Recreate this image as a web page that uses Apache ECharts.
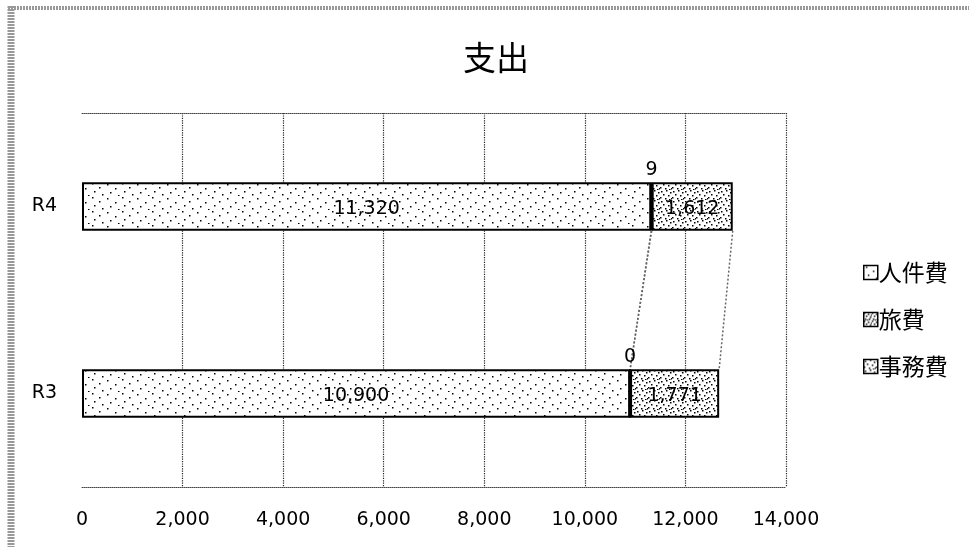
<!DOCTYPE html>
<html><head><meta charset="utf-8">
<script src="https://cdn.jsdelivr.net/npm/echarts@6/dist/echarts.min.js"></script>
<style>html,body{margin:0;padding:0;background:#fff}#c{width:969px;height:547px}</style>
</head><body><div id="c"></div>
<script>
const categories = ['R3', 'R4'];
const seriesNames = ['人件費', '旅費', '事務費'];
const personnel = [10900, 11320];
const travel = [0, 9];
const office = [1771, 1612];
const xTicks = [0, 2000, 4000, 6000, 8000, 10000, 12000, 14000];

function makePattern(w, h, dots, bg) {
  const c = document.createElement('canvas');
  c.width = w; c.height = h;
  const g = c.getContext('2d');
  g.fillStyle = bg; g.fillRect(0, 0, w, h);
  g.fillStyle = '#000';
  dots.forEach(d => g.fillRect(d[0], d[1], 1.5, 1.5));
  return c;
}
const sparse = makePattern(30, 14, [[2,1],[17,2],[9,5],[25,6],[4,9],[20,10],[12,12],[28,13]], '#fff');
const dense = makePattern(8, 8, [[0,0],[4,1],[2,3],[6,4],[1,6],[5,6],[3,7],[7,2]], '#fff');
const medium = makePattern(12, 10, [[1,1],[6,0],[10,2],[3,4],[8,5],[0,7],[5,8],[11,8],[9,9]], '#fff');

const fmt = v => Number(v).toLocaleString('en-US');
const NUMFONT = '"DejaVu Sans", "Noto Sans", sans-serif';
const JPFONT = '"Noto Sans CJK JP", sans-serif';

// cumulative ends for series lines
const ends = [];
let acc = categories.map(() => 0);
[personnel, travel, office].forEach(arr => {
  acc = acc.map((a, i) => a + arr[i]);
  ends.push([acc[1], acc[0], 0]);
});

const BAR_RATIO = 0.26;
const barStyle = (img) => ({ color: { image: img, repeat: 'repeat' }, borderColor: '#000', borderWidth: 2 });
const lbl = (pos) => ({ show: true, position: pos, distance: 5, offset: [0, 3], formatter: p => fmt(p.value), fontFamily: NUMFONT, fontSize: 19, color: '#000' });

const chart = echarts.init(document.getElementById('c'));
chart.setOption({
  animation: false,
  backgroundColor: '#fff',
  title: { text: '支出', left: 458, top: 36, textStyle: { fontFamily: JPFONT, fontSize: 33, fontWeight: 'normal', color: '#000' } },
  legend: {
    orient: 'vertical', left: 858, top: 252, itemGap: 16, itemWidth: 14, itemHeight: 14,
    icon: 'rect', data: seriesNames,
    itemStyle: { borderColor: '#000', borderWidth: 1.5 },
    textStyle: { fontFamily: JPFONT, fontSize: 23, lineHeight: 31, color: '#000', padding: [0, 0, 0, -4] }
  },
  grid: { left: 82, right: 183, top: 113, bottom: 60 },
  xAxis: [{
    type: 'value', min: 0, max: 14000, interval: 2000,
    axisLine: { show: true, lineStyle: { color: '#444', type: 'dotted', width: 1 } },
    axisTick: { show: false },
    axisLabel: { margin: 24, fontFamily: NUMFONT, fontSize: 19, color: '#000', formatter: fmt },
    splitLine: { show: true, showMinLine: false, lineStyle: { color: '#222', type: 'dotted', width: 1.2 } }
  }, {
    type: 'value', position: 'top', min: 0, max: 14000, interval: 2000,
    axisLine: { show: true, lineStyle: { color: '#444', type: 'dotted', width: 1 } },
    axisTick: { show: false }, axisLabel: { show: false }, splitLine: { show: false }
  }],
  yAxis: {
    type: 'category', data: categories,
    axisLine: { show: false }, axisTick: { show: false },
    axisLabel: { margin: 25, padding: [6, 0, 0, 0], fontFamily: NUMFONT, fontSize: 19, color: '#000' }
  },
  series: [
    { name: seriesNames[0], type: 'bar', stack: 's', barWidth: (BAR_RATIO * 100) + '%', data: personnel,
      itemStyle: barStyle(sparse), label: lbl('inside') },
    { name: seriesNames[1], type: 'bar', stack: 's', data: travel,
      itemStyle: barStyle(dense), label: lbl('top') },
    { name: seriesNames[2], type: 'bar', stack: 's', data: office,
      itemStyle: barStyle(medium), label: lbl('inside') },
    { type: 'custom', name: 'serieslines', silent: true, z: 1,
      encode: { x: [0, 1], y: 2 },
      data: ends,
      renderItem: (params, api) => {
        const band = api.size([0, 1])[1];
        const half = band * BAR_RATIO / 2;
        const p1 = api.coord([api.value(0), 1]);
        const p2 = api.coord([api.value(1), 0]);
        return { type: 'line', shape: { x1: p1[0], y1: p1[1] + half, x2: p2[0], y2: p2[1] - half },
          style: { stroke: '#666', lineWidth: 1.5, lineDash: [2, 2] } };
      } }
  ],
  graphic: [
    { type: 'line', silent: true, shape: { x1: 11, y1: 6, x2: 11, y2: 547 }, style: { stroke: '#999', lineWidth: 7, lineDash: [2, 1] } },
    { type: 'line', silent: true, shape: { x1: 8, y1: 8, x2: 969, y2: 8 }, style: { stroke: '#999', lineWidth: 4, lineDash: [2, 1] } }
  ]
});
</script></body></html>
